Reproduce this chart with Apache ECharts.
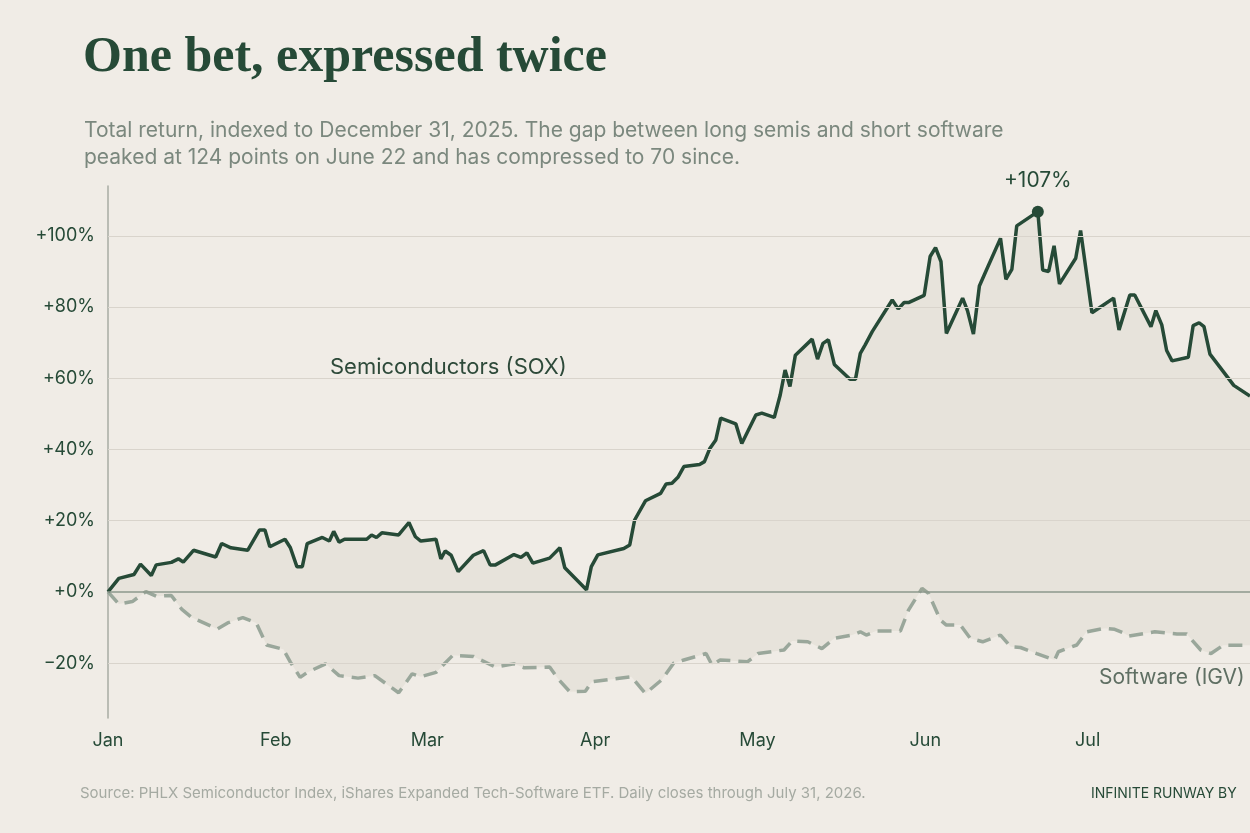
<!DOCTYPE html>
<html>
  <head>
    <meta charset="utf-8">
    <title>One bet, expressed twice</title>
    <script src="https://cdn.jsdelivr.net/npm/echarts@6.0.0/dist/echarts.min.js"></script>
    <style>
      html, body { margin: 0; padding: 0; background: #f0ece6; }
      #main { width: 1250px; height: 833px; }
    </style>
  </head>
  <body>
    <div id="main"></div>
    <script type="text/javascript">
      // days since Jan 1 2026, total return in %
      var semisDays = [0, 2, 4.8, 6, 8, 8.9, 11.7, 13, 13.9, 15.8, 19.9, 21, 22.7, 25.8, 28, 29, 29.9, 32.7, 33.7, 34.9, 35.9, 36.8, 39.6, 40.9, 41.7, 42.7, 43.7, 47.8, 48.7, 49.6, 50.6, 53.7, 55.6, 56.8, 57.8, 60.6, 61.5, 62.3, 63.4, 64.7, 67.5, 69.4, 70.6, 71.6, 75, 76.3, 77.4, 78.5, 81.6, 83.5, 84.4, 88.4, 89.3, 90.5, 95.3, 96.4, 97.3, 99.3, 102.1, 103.1, 104.2, 105.3, 106.4, 109.3, 110.2, 111.2, 112.3, 113.2, 116, 117.1, 119.7, 120.8, 123.1, 124.2, 125.1, 126, 127, 130.1, 131.1, 132.1, 133.1, 134.2, 137.1, 138.1, 139, 139.9, 141.2, 144.9, 146, 147.1, 148, 150.8, 151.9, 152.9, 153.9, 154.9, 157.9, 158.8, 159.9, 161, 162.3, 164.9, 165.9, 167, 167.9, 171.8, 172.7, 173.8, 174.8, 175.8, 178.8, 179.7, 181.8, 185.8, 186.8, 188.8, 189.7, 192.7, 193.6, 194.7, 195.6, 196.6, 199.6, 200.5, 201.6, 202.5, 203.6, 206, 208, 211];
      var semisValues = [0, 3.8, 4.9, 7.8, 4.6, 7.6, 8.3, 9.3, 8.4, 11.7, 9.8, 13.6, 12.4, 11.7, 17.4, 17.4, 12.7, 14.8, 12.4, 7.1, 7.1, 13.6, 15.3, 14.3, 17, 14, 14.8, 14.8, 16, 15.3, 16.6, 16, 19.5, 15.5, 14.3, 14.8, 9.3, 11.5, 10.3, 5.7, 10.3, 11.6, 7.6, 7.6, 10.5, 9.7, 11, 8.1, 9.5, 12.4, 6.8, 0.6, 7.1, 10.4, 12.2, 13.2, 20.2, 25.6, 27.7, 30.3, 30.5, 32.2, 35.2, 35.8, 36.6, 40.3, 42.7, 48.8, 47.2, 41.7, 49.7, 50.2, 49, 55.3, 62.3, 57.7, 66.5, 71, 65.4, 69.8, 70.8, 63.9, 59.7, 59.7, 67, 69.4, 73.1, 82, 79.5, 81.3, 81.3, 83.3, 94.2, 96.7, 92.8, 72.6, 82.5, 79, 72.4, 85.9, 90.4, 99.3, 87.8, 90.6, 102.8, 106.8, 90.4, 90, 97.2, 86.5, 93.7, 101.5, 78.4, 82.5, 73.6, 83.4, 83.4, 74.5, 79, 75, 67.8, 64.9, 65.9, 74.8, 75.6, 74.5, 66.8, 62, 58, 55];

      var softDays = [0, 2, 4.5, 7, 8.9, 11.7, 13.6, 15.5, 20.2, 22.1, 24.9, 27.4, 29.3, 32.4, 33.7, 35.5, 36.8, 40.2, 42.7, 46.2, 49.3, 53.7, 56.2, 57.8, 60.6, 63.7, 67.5, 71.6, 75, 76.9, 81.6, 83.2, 85.3, 88.2, 89.4, 96.7, 99.3, 102.3, 104.5, 106.4, 110.5, 111.6, 113.1, 118.2, 120.1, 124.9, 126.4, 129.3, 131.9, 134.2, 137.5, 139, 140.1, 141.9, 146.4, 147.9, 150.4, 151.6, 153.8, 154.9, 157.5, 159.3, 161.6, 164.9, 166.8, 168.6, 171.6, 174.9, 175.6, 179, 180.8, 184.2, 186, 187.5, 188.6, 193.4, 197.5, 199.3, 201.9, 203.8, 206, 211];
      var softValues = [0, -3.4, -2.7, 0.1, -1.2, -1, -4.8, -7.2, -10.4, -8.7, -7.2, -8.7, -14.9, -16.1, -19.7, -24, -22.6, -20.2, -23.5, -24.2, -23.5, -28.3, -23, -23.8, -22.6, -17.8, -18.1, -21.1, -20.2, -21.3, -21.1, -24.5, -28, -27.9, -25.2, -23.8, -28.5, -24.7, -20, -19.1, -17.3, -20.5, -19.1, -19.6, -17.3, -16.3, -13.8, -14, -15.9, -13, -12.1, -11.2, -12.1, -11, -11, -5.1, 1, -0.4, -7.9, -9.3, -9.3, -13, -14, -12.1, -15.4, -15.6, -17.3, -19.1, -16.8, -14.9, -11.2, -10.2, -10.5, -11.4, -12.4, -11.2, -11.8, -11.8, -16.3, -17.3, -15, -15];

      var monthStarts = [0, 31, 59, 90, 120, 151, 181];
      var monthLabels = ['Jan', 'Feb', 'Mar', 'Apr', 'May', 'Jun', 'Jul'];
      var yTicks = [-20, 0, 20, 40, 60, 80, 100];
      var peakDay = 171.8, peakValue = 106.8;

      function pairs(xs, ys) {
        return xs.map(function (x, i) { return [x, ys[i]]; });
      }

      var dark = '#264a37';
      var chart = echarts.init(document.getElementById('main'));
      var option = {
        backgroundColor: '#f0ece6',
        animation: false,
        title: [{
          text: 'One bet, expressed twice',
          left: 78, top: 28,
          textStyle: { fontFamily: 'Liberation Serif', fontWeight: 'bold', fontSize: 50, color: dark }
        }, {
          text: 'Total return, indexed to December 31, 2025. The gap between long semis and short software\npeaked at 124 points on June 22 and has compressed to 70 since.',
          left: 79, top: 112,
          textStyle: { fontFamily: 'Inter', fontWeight: 'normal', fontSize: 21, lineHeight: 27, color: '#7b887e' }
        }],
        grid: { left: 108, top: 186, width: 1182, height: 532 },
        xAxis: {
          type: 'value', min: 0, max: 211,
          axisLine: { show: false },
          axisTick: { show: false },
          splitLine: { show: false },
          axisLabel: {
            customValues: monthStarts,
            formatter: function (v) { return monthLabels[monthStarts.indexOf(v)] || ''; },
            fontFamily: 'Inter', fontSize: 18, color: dark, margin: 14
          }
        },
        yAxis: {
          type: 'value', min: -35.4, max: 114,
          axisLine: { show: true, lineStyle: { color: '#a9ada3', width: 1.5 } },
          axisTick: { show: false },
          splitLine: { show: false },
          axisLabel: {
            customValues: yTicks,
            formatter: function (v) { return v === 0 ? '+0%' : (v > 0 ? '+' + v + '%' : '\u221220%'.replace('20', String(-v))); },
            fontFamily: 'Inter', fontSize: 18, color: dark, margin: 13
          }
        },
        series: [{
          type: 'line', data: [], z: 1,
          markLine: {
            silent: true, symbol: 'none', label: { show: false },
            data: yTicks.map(function (v) {
              return { yAxis: v, lineStyle: v === 0 ? { color: '#8c998d', width: 1.5, type: 'solid' } : { color: '#d9d4cc', width: 1.2, type: 'solid' } };
            })
          }
        }, {
          name: 'Software (IGV)', type: 'line', z: 2,
          data: pairs(softDays, softValues),
          showSymbol: false,
          lineStyle: { color: '#9aa79b', width: 3.5, type: [14, 8] },
          areaStyle: { origin: 0, color: 'rgba(170,160,140,0.17)' }
        }, {
          name: 'Semiconductors (SOX)', type: 'line', z: 3,
          data: pairs(semisDays, semisValues),
          showSymbol: false,
          lineStyle: { color: dark, width: 3.5 },
          areaStyle: { origin: 0, color: 'rgba(170,160,140,0.17)' },
          markPoint: {
            symbol: 'circle', symbolSize: 12,
            itemStyle: { color: dark },
            label: { show: true, position: 'top', distance: 14, formatter: '+107%', fontFamily: 'Inter', fontSize: 21, color: dark },
            data: [{ coord: [peakDay, peakValue] }]
          }
        }],
        graphic: [{
          type: 'text', left: 330, top: 356,
          style: { text: 'Semiconductors (SOX)', font: '22px Inter', fill: '#2e4a3a' }
        }, {
          type: 'text', left: 1099, top: 667,
          style: { text: 'Software (IGV)', font: '21px Inter', fill: '#5f6f63' }
        }, {
          type: 'text', left: 80, top: 786,
          style: { text: 'Source: PHLX Semiconductor Index, iShares Expanded Tech-Software ETF. Daily closes through July 31, 2026.', font: '15px Inter', fill: '#a5aaa2' }
        }, {
          type: 'text', left: 1091, top: 787,
          style: { text: 'INFINITE RUNWAY BY', font: '14px Inter', fill: dark }
        }]
      };
      chart.setOption(option);
    </script>
  </body>
</html>
